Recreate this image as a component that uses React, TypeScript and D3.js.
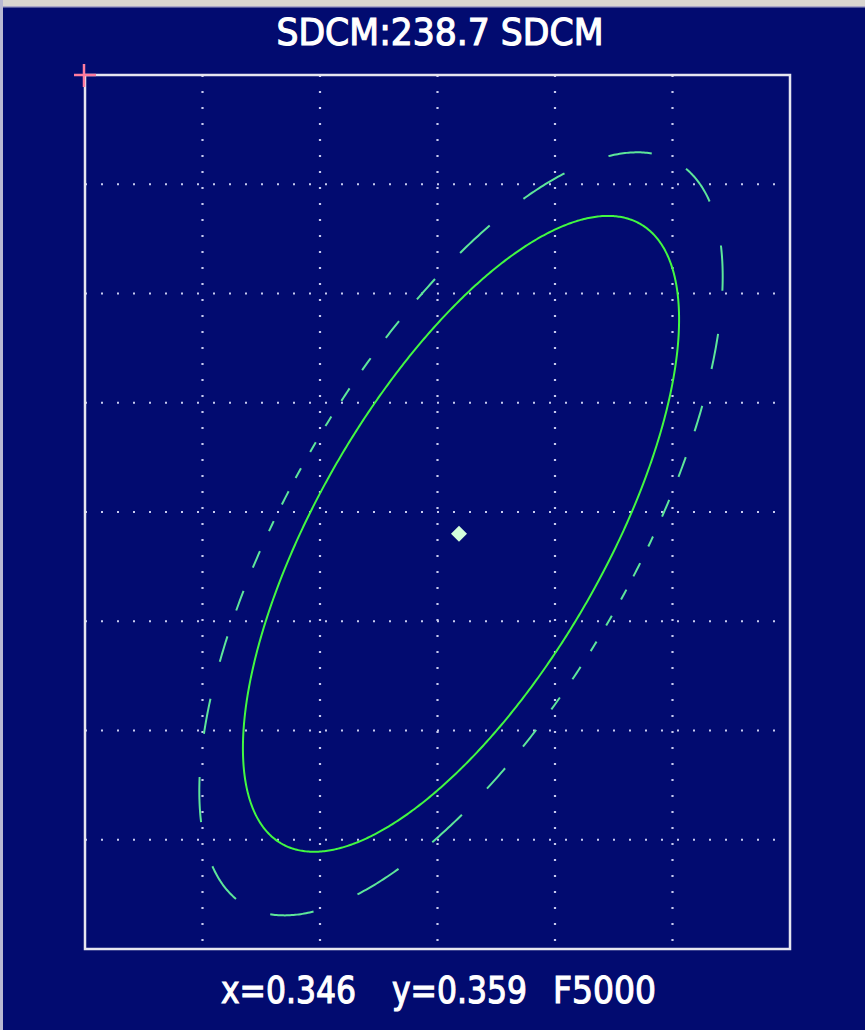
import React from "react";
import * as d3 from "d3";

// chromaticity window shown in the plot (CIE 1931 x, y)
const xDomain = [0.33, 0.36];
const yDomain = [0.34, 0.38];

// measured point
const pointX = 0.346;
const pointY = 0.359;
const sdcm = 238.7;
const cct = "F5000";

// ellipse around the point: semi-axes (data units) and tilt (deg, ccw from x)
const ellipseAxes = [0.01611, 0.00619];
const ellipseTilt = 62.3;
// solid ellipse, dashed ellipse
const ellipseScales = [1, 1.2];
// dashed ellipse: drawn in polar-angle slices (deg)
const dashStep = 10;
const dashOn = 5.2;
const dashPhase = 5;

const W = 865;
const H = 1030;
const frame = { left: 85, top: 75, right: 790, bottom: 949 };

const BG = "#020b70";
const GREEN = "#42f842";
const GREEN_DASH = "#5ee69a";

function ellipsePoints(scale: number): [number, number][] {
  const th = (ellipseTilt * Math.PI) / 180;
  const a = ellipseAxes[0] * scale;
  const b = ellipseAxes[1] * scale;
  const pts: [number, number][] = [];
  for (let i = 0; i <= 720; i++) {
    const t = (i / 720) * Math.PI * 2;
    const u = a * Math.cos(t);
    const v = b * Math.sin(t);
    pts.push([pointX + u * Math.cos(th) - v * Math.sin(th), pointY + u * Math.sin(th) + v * Math.cos(th)]);
  }
  return pts;
}

// split ellipse into dashes by polar angle about the centre
function dashedSegments(scale: number): [number, number][][] {
  const pts = ellipsePoints(scale);
  const segs: [number, number][][] = [];
  let cur: [number, number][] = [];
  for (const p of pts) {
    const ang = (Math.atan2(p[1] - pointY, p[0] - pointX) * 180) / Math.PI;
    const m = (((ang - dashPhase) % dashStep) + dashStep) % dashStep;
    if (m < dashOn) {
      cur.push(p);
    } else if (cur.length) {
      if (cur.length > 1) segs.push(cur);
      cur = [];
    }
  }
  if (cur.length > 1) segs.push(cur);
  return segs;
}

export default function App() {
  const x = d3.scaleLinear().domain(xDomain).range([frame.left, frame.right]);
  const y = d3.scaleLinear().domain(yDomain).range([frame.bottom, frame.top]);

  const xGrid = x.ticks(6).filter((v) => v > xDomain[0] + 1e-9 && v < xDomain[1] - 1e-9);
  const yGrid = y.ticks(8).filter((v) => v > yDomain[0] + 1e-9 && v < yDomain[1] - 1e-9);

  const line = d3
    .line<[number, number]>()
    .x((d) => x(d[0]))
    .y((d) => y(d[1]));

  const cx = x(pointX) - 2;
  const cy = y(pointY);
  const ds = 8;

  const textFont = "'Liberation Sans Narrow', 'DejaVu Sans Condensed', 'Arial Narrow', sans-serif";

  return (
    <>
      <style>{`body{margin:0}`}</style>
      <svg width={W} height={H} style={{ display: "block" }}>
        <rect x={0} y={0} width={W} height={H} fill={BG} />
        <rect x={0} y={0} width={W} height={7} fill="#d9d6d0" />
        <rect x={0} y={6} width={W} height={1.5} fill="#a8a6c8" />
        <rect x={0} y={0} width={3} height={H} fill="#b9b9d2" />

        <text
          x={440}
          y={45}
          textAnchor="middle"
          fill="#ffffff"
          stroke="#ffffff"
          strokeWidth={1.1}
          fontFamily={textFont}
          fontSize={37}
          textLength={327}
          lengthAdjust="spacingAndGlyphs"
        >
          {`SDCM:${sdcm} SDCM`}
        </text>

        {/* dotted grid */}
        <g stroke="#c8cbef" strokeWidth={2.2} strokeDasharray="2 14">
          {xGrid.map((v) => (
            <line key={"gx" + v} x1={x(v)} x2={x(v)} y1={frame.top} y2={frame.bottom} />
          ))}
          {yGrid.map((v) => (
            <line key={"gy" + v} x1={frame.left} x2={frame.right} y1={y(v)} y2={y(v)} />
          ))}
        </g>

        <rect
          x={frame.left}
          y={frame.top}
          width={frame.right - frame.left}
          height={frame.bottom - frame.top}
          fill="none"
          stroke="#e6e6f0"
          strokeWidth={2.5}
        />

        {/* dashed ellipse */}
        <g fill="none" stroke={GREEN_DASH} strokeWidth={2}>
          {dashedSegments(ellipseScales[1]).map((s, i) => (
            <path key={i} d={line(s) || ""} />
          ))}
        </g>

        {/* solid ellipse */}
        <path d={line(ellipsePoints(ellipseScales[0])) || ""} fill="none" stroke={GREEN} strokeWidth={2} />

        {/* measured point */}
        <path
          d={`M${cx},${cy - ds}L${cx + ds},${cy}L${cx},${cy + ds}L${cx - ds},${cy}Z`}
          fill="#d4ffdc"
        />

        {/* corner marker */}
        <g stroke="#ff7c9e" strokeWidth={2.5}>
          <line x1={frame.left - 11} x2={frame.left + 11} y1={frame.top} y2={frame.top} />
          <line x1={frame.left - 1} x2={frame.left - 1} y1={frame.top - 11} y2={frame.top + 12} />
        </g>

        <g fill="#ffffff" stroke="#ffffff" strokeWidth={1.1} fontFamily={textFont} fontSize={38}>
          <text x={221} y={1003} textLength={135} lengthAdjust="spacingAndGlyphs">
            {`x=${pointX.toFixed(3)}`}
          </text>
          <text x={392} y={1003} textLength={135} lengthAdjust="spacingAndGlyphs">
            {`y=${pointY.toFixed(3)}`}
          </text>
          <text x={553} y={1003} textLength={103} lengthAdjust="spacingAndGlyphs">
            {cct}
          </text>
        </g>
      </svg>
    </>
  );
}
